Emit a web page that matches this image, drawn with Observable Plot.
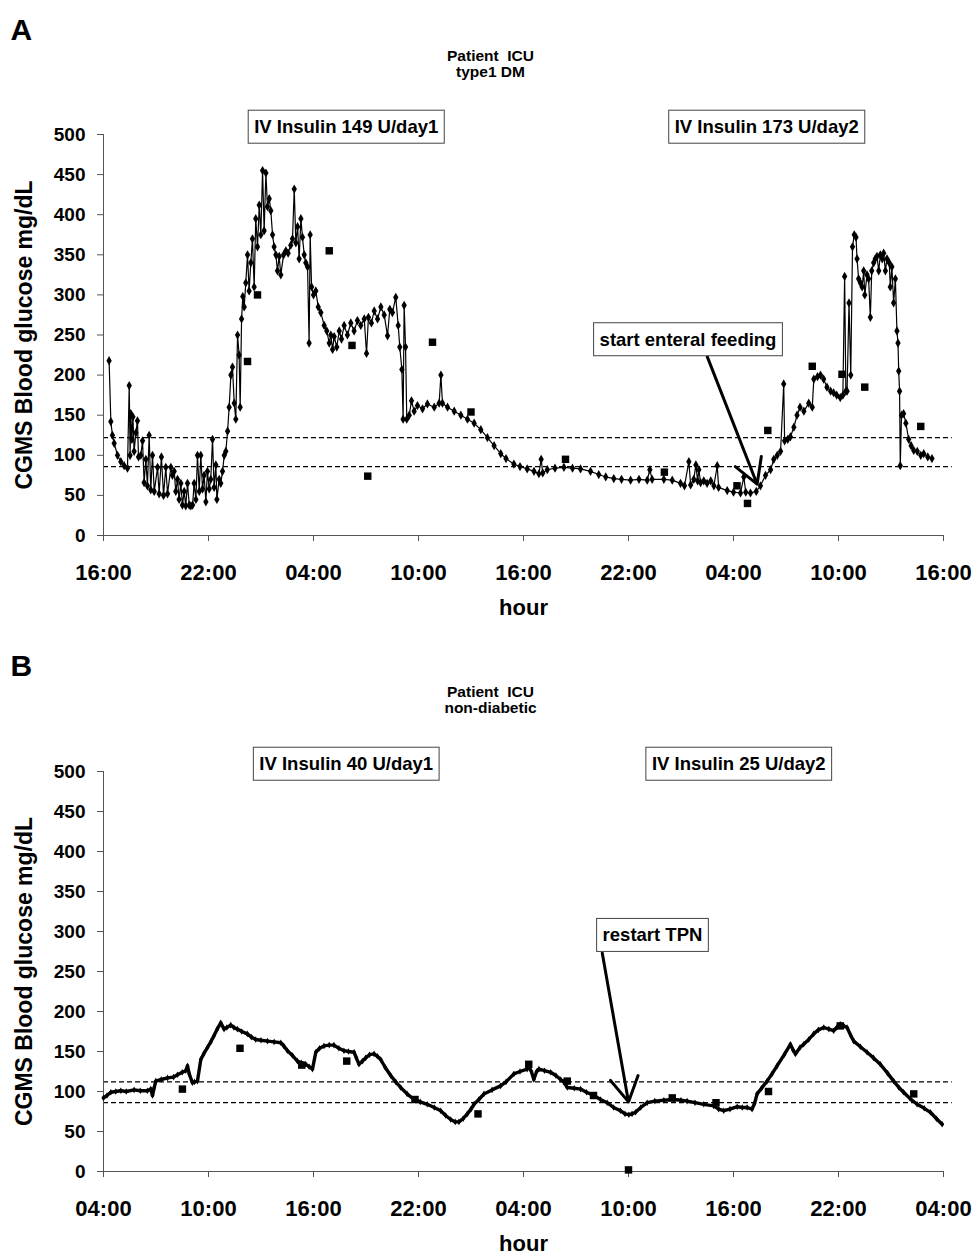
<!DOCTYPE html>
<html><head><meta charset="utf-8">
<script src="https://cdn.jsdelivr.net/npm/d3@7"></script>
<script src="https://cdn.jsdelivr.net/npm/@observablehq/plot@0.6"></script>
<style>
body{margin:0;background:#fff;}
#chart{width:977px;}
#chart svg{display:block;}
</style></head><body><div id="chart"></div>
<script>
// ---- tick positions / labels (hours since start of record) ----
const xTicks = [0, 6, 12, 18, 24, 30, 36, 42, 48];
const xTickLabelsA = ["16:00","22:00","04:00","10:00","16:00","22:00","04:00","10:00","16:00"];
const xTickLabelsB = ["04:00","10:00","16:00","22:00","04:00","10:00","16:00","22:00","04:00"];
const yTicks = [0, 50, 100, 150, 200, 250, 300, 350, 400, 450, 500];

// ---- target range (dashed lines), mg/dL ----
const targetA = [86, 122];
const targetB = [86, 112];

// ---- Panel A: CGMS readings [hour, mg/dL] ----
const cgmsA = [
[0.32,218],[0.42,142],[0.51,125],[0.61,115],[0.8,100],[0.99,92],[1.18,87],[1.37,84],[1.47,187],[1.52,100],
[1.56,152],[1.62,120],[1.68,148],[1.75,105],[1.85,128],[1.94,143],[2.0,98],[2.13,100],[2.23,118],[2.32,66],
[2.42,95],[2.51,62],[2.61,125],[2.7,57],[2.8,100],[2.9,55],[3.09,85],[3.18,52],[3.31,98],[3.43,50],
[3.56,85],[3.66,52],[3.85,85],[3.94,75],[4.04,80],[4.13,55],[4.23,70],[4.32,45],[4.42,65],[4.51,38],
[4.61,55],[4.7,37],[4.8,65],[4.9,38],[4.99,37],[5.09,38],[5.18,65],[5.28,45],[5.37,100],[5.47,55],
[5.56,100],[5.66,58],[5.75,75],[5.85,42],[5.94,80],[6.04,58],[6.13,70],[6.23,120],[6.32,60],[6.42,88],
[6.48,45],[6.61,70],[6.7,65],[6.8,80],[6.9,100],[6.99,105],[7.09,130],[7.18,160],[7.28,200],[7.37,210],
[7.47,165],[7.56,145],[7.66,250],[7.75,225],[7.81,160],[7.89,270],[7.96,298],[8.04,285],[8.13,315],[8.23,350],
[8.32,305],[8.42,340],[8.51,370],[8.61,310],[8.7,395],[8.8,360],[8.9,412],[8.99,375],[9.09,455],[9.18,380],
[9.28,452],[9.37,410],[9.47,420],[9.56,405],[9.66,375],[9.75,360],[9.85,350],[9.94,330],[10.04,348],[10.13,325],
[10.29,350],[10.42,355],[10.55,352],[10.7,362],[10.8,370],[10.9,432],[10.99,365],[11.09,385],[11.18,345],[11.28,395],
[11.37,372],[11.47,350],[11.56,340],[11.66,335],[11.75,240],[11.81,375],[11.89,310],[12.0,300],[12.13,305],[12.27,285],
[12.42,278],[12.61,262],[12.76,255],[12.9,240],[12.99,250],[13.09,232],[13.18,248],[13.33,235],[13.47,255],[13.6,245],
[13.75,262],[13.94,250],[14.13,265],[14.32,255],[14.51,268],[14.7,262],[14.9,270],[15.03,227],[15.14,272],[15.31,265],
[15.47,280],[15.66,270],[15.85,285],[16.04,275],[16.23,249],[16.36,282],[16.51,278],[16.7,297],[16.84,262],[16.93,235],
[17.05,207],[17.12,145],[17.18,287],[17.26,235],[17.33,145],[17.47,150],[17.6,168],[17.75,155],[17.94,162],[18.23,158],
[18.51,164],[18.9,160],[19.18,165],[19.28,200],[19.37,165],[19.66,160],[20.04,155],[20.42,150],[20.8,145],[21.18,140],
[21.56,132],[21.94,122],[22.32,112],[22.7,102],[23.0,96],[23.45,89],[23.8,86],[24.21,83],[24.6,80],[24.88,77],
[25.01,95],[25.1,78],[25.36,82],[25.8,84],[26.31,85],[26.8,84],[27.26,83],[27.83,80],[28.3,76],[28.7,73],
[29.16,71],[29.6,70],[30.12,69],[30.6,70],[31.07,69],[31.22,82],[31.35,70],[32.02,70],[32.5,69],[32.97,65],
[33.2,62],[33.45,92],[33.55,63],[33.73,70],[33.85,88],[33.95,68],[34.02,82],[34.12,66],[34.3,68],[34.49,65],
[34.7,68],[34.88,62],[35.07,87],[35.15,60],[35.64,56],[36.0,54],[36.4,53],[36.59,73],[36.7,54],[36.97,53],
[37.3,55],[37.54,62],[37.83,75],[38.12,82],[38.3,95],[38.5,100],[38.69,105],[38.87,189],[38.92,118],[39.1,120],
[39.25,123],[39.45,135],[39.63,150],[39.8,160],[40.02,155],[40.3,165],[40.5,160],[40.59,195],[40.8,198],[40.97,200],
[41.15,195],[41.34,185],[41.55,180],[41.72,178],[41.9,175],[42.1,172],[42.25,175],[42.35,323],[42.42,180],[42.49,180],
[42.6,290],[42.7,200],[42.8,360],[42.9,375],[43.0,372],[43.06,345],[43.15,320],[43.25,315],[43.35,310],[43.44,330],
[43.5,300],[43.63,325],[43.72,320],[43.82,272],[43.9,330],[44.01,340],[44.1,345],[44.2,348],[44.3,330],[44.39,350],
[44.5,345],[44.58,352],[44.68,330],[44.77,345],[44.9,340],[44.96,310],[45.05,335],[45.15,290],[45.25,320],[45.34,255],
[45.4,240],[45.44,205],[45.49,180],[45.53,87],[45.6,150],[45.72,152],[45.85,140],[46.01,120],[46.15,112],[46.3,106],
[46.5,105],[46.7,100],[46.87,102],[47.1,98],[47.34,96]
];
// ---- Panel A: blood glucose (lab) [hour, mg/dL] ----
const bgA = [[8.23,217],[8.8,300],[12.9,355],[14.2,237],[15.1,74],[18.8,241],[21.0,154],[26.4,95],
[32.05,79],[36.2,62],[36.8,40],[37.96,131],[40.5,211],[42.2,201],[43.5,185],[46.7,136]];

// ---- Panel B: CGMS readings [hour, mg/dL] ----
const cgmsB = [
[0.0,92],[0.2,95],[0.42,99],[0.7,100],[0.99,101],[1.3,100],[1.75,102],[2.1,101],[2.51,101],[2.7,103],
[2.8,95],[2.9,105],[2.99,113],[3.3,115],[3.66,117],[4.0,118],[4.23,121],[4.5,124],[4.7,126],[4.8,132],
[4.9,122],[5.08,111],[5.2,112],[5.37,113],[5.56,140],[5.75,148],[5.94,155],[6.13,162],[6.32,170],[6.5,178],
[6.7,186],[6.89,178],[7.05,180],[7.27,183],[7.45,180],[7.65,178],[7.9,175],[8.22,172],[8.45,168],[8.7,165],
[9.0,164],[9.37,163],[9.75,162],[10.13,161],[10.3,157],[10.51,151],[10.8,145],[11.08,138],[11.3,136],[11.56,134],
[11.75,131],[11.94,128],[12.13,149],[12.35,154],[12.6,157],[12.9,158],[13.17,158],[13.45,154],[13.74,151],[14.0,150],
[14.32,149],[14.45,142],[14.6,134],[14.8,138],[14.98,142],[15.2,146],[15.46,147],[15.65,144],[15.84,140],[16.1,130],
[16.41,120],[16.7,112],[16.98,105],[17.35,97],[17.74,90],[18.1,87],[18.5,84],[18.9,80],[19.27,76],[19.55,70],
[19.84,65],[20.1,62],[20.31,62],[20.55,66],[20.79,72],[21.0,78],[21.17,84],[21.45,90],[21.74,97],[22.2,102],
[22.69,107],[23.0,112],[23.45,122],[23.8,125],[24.21,128],[24.3,131],[24.45,125],[24.59,115],[24.75,125],[24.88,128],
[25.2,126],[25.55,124],[25.85,120],[26.12,115],[26.3,112],[26.5,105],[26.9,104],[27.26,103],[27.6,99],[28.02,95],
[28.4,90],[28.78,86],[29.15,80],[29.54,76],[29.8,72],[30.02,71],[30.2,72],[30.4,74],[30.7,80],[31.07,86],
[31.5,88],[32.02,89],[32.59,90],[33.0,89],[33.35,88],[33.8,86],[34.3,84],[34.87,82],[35.15,78],[35.44,76],
[35.8,78],[36.21,81],[36.5,80],[36.78,80],[37.06,78],[37.2,85],[37.35,97],[37.6,104],[37.92,113],[38.2,122],
[38.49,132],[38.9,146],[39.25,159],[39.4,152],[39.54,147],[39.8,155],[40.01,159],[40.3,165],[40.58,172],[40.85,177],
[41.16,180],[41.45,178],[41.72,176],[41.9,180],[42.1,184],[42.3,182],[42.49,180],[42.7,170],[42.87,163],[43.25,156],
[43.63,149],[44.0,142],[44.39,134],[44.8,123],[45.15,113],[45.45,105],[45.72,99],[46.1,91],[46.49,84],[46.9,79],
[47.25,74],[47.6,66],[47.92,59]
];
// ---- Panel B: blood glucose (lab) [hour, mg/dL] ----
const bgB = [[4.51,103],[7.8,154],[11.33,133],[13.9,138],[17.8,90],[21.4,72],[24.3,134],[26.5,113],
[28.0,95],[30.0,2],[32.5,92],[35.0,86],[38.0,100],[42.1,182],[46.3,97]];

// ---- annotations ----
const notesA = [
  {x: 13.87, y: 509, text: "IV Insulin 149 U/day1"},
  {x: 37.9, y: 509, text: "IV Insulin 173 U/day2"},
  {x: 33.4, y: 244, text: "start enteral feeding"}
];
const arrowA = [{x1: 34.5, y1: 223, x2: 37.35, y2: 64}];
const notesB = [
  {x: 13.87, y: 509, text: "IV Insulin 40 U/day1"},
  {x: 36.3, y: 509, text: "IV Insulin 25 U/day2"},
  {x: 31.37, y: 295, text: "restart TPN"}
];
const arrowB = [{x1: 28.5, y1: 273, x2: 30.0, y2: 87}];

const FONT = "'Liberation Sans', Arial, Helvetica, sans-serif";

function panel({letter, title, labels, target, cgms, bg, notes, arrow, height, marginTop, marginBottom, lineWidth, dotR}) {
  return Plot.plot({
    width: 977,
    height,
    marginLeft: 103,
    marginRight: 34,
    marginTop,
    marginBottom,
    style: {fontFamily: FONT, fontWeight: "bold", background: "white", color: "black", overflow: "visible"},
    x: {domain: [0, 48]},
    y: {domain: [0, 500]},
    marks: [
      Plot.ruleY(target, {x1: 0, x2: 48.5, stroke: "black", strokeWidth: 1.3, strokeDasharray: "5,3"}),
      Plot.ruleX([0], {y1: 0, y2: 500, stroke: "#555", strokeWidth: 1}),
      Plot.ruleY([0], {x1: 0, x2: 48, stroke: "#555", strokeWidth: 1}),
      Plot.axisY({ticks: yTicks, tickSize: 6, tickPadding: 12, fontSize: 19, fontWeight: "bold", label: null, stroke: "#555"}),
      Plot.axisX({ticks: xTicks, tickFormat: d => labels[xTicks.indexOf(d)], tickSize: 6, tickPadding: 23, fontSize: 22, fontWeight: "bold", label: null, stroke: "#555"}),
      Plot.line(cgms, {x: d => d[0], y: d => d[1], stroke: "black", strokeWidth: lineWidth}),
      Plot.dot(cgms, {x: d => d[0], y: d => d[1], symbol: "diamond", r: dotR, fill: "black"}),
      Plot.dot(bg, {x: d => d[0], y: d => d[1], symbol: "square", r: 4.2, fill: "black"}),
      Plot.arrow(arrow, {x1: "x1", y1: "y1", x2: "x2", y2: "y2", stroke: "black", strokeWidth: 3, headLength: 14}),
      Plot.text(notes, {x: "x", y: "y", text: "text", fontSize: 18.5, fontWeight: "bold", fill: "black"}),
      Plot.text([letter], {frameAnchor: "top-left", dx: -93, dy: -(marginTop - 18), fontSize: 30, fontWeight: "bold", textAnchor: "start", lineAnchor: "top"}),
      Plot.text([title], {frameAnchor: "top", dx: -33, dy: -(marginTop - 63), fontSize: 15.5, fontWeight: "bold", textAnchor: "middle", lineAnchor: "middle", lineHeight: 1.05}),
      Plot.text(["CGMS Blood glucose mg/dL"], {frameAnchor: "left", dx: -79, rotate: -90, fontSize: 23, fontWeight: "bold", textAnchor: "middle", lineAnchor: "middle"}),
      Plot.text(["hour"], {frameAnchor: "bottom", dy: 72, fontSize: 22, fontWeight: "bold", textAnchor: "middle", lineAnchor: "middle"})
    ]
  });
}

const chart = document.getElementById("chart");
chart.append(panel({letter: "A", title: "Patient\u00a0 ICU\ntype1 DM", labels: xTickLabelsA, target: targetA,
  cgms: cgmsA, bg: bgA, notes: notesA, arrow: arrowA, height: 636, marginTop: 134, marginBottom: 101, lineWidth: 1.2, dotR: 2.8}));
chart.append(panel({letter: "B", title: "Patient\u00a0 ICU\nnon-diabetic", labels: xTickLabelsB, target: targetB,
  cgms: cgmsB, bg: bgB, notes: notesB, arrow: arrowB, height: 624, marginTop: 135, marginBottom: 89, lineWidth: 3.4, dotR: 2}));

// draw a frame around each boxed annotation label
const NS = "http://www.w3.org/2000/svg";
const boxedTexts = new Set([...notesA, ...notesB].map(d => d.text));
chart.querySelectorAll("svg text").forEach(t => {
  if (!boxedTexts.has(t.textContent)) return;
  const b = t.getBBox();
  const r = document.createElementNS(NS, "rect");
  r.setAttribute("x", b.x - 6);
  r.setAttribute("y", b.y - 6);
  r.setAttribute("width", b.width + 12);
  r.setAttribute("height", b.height + 12);
  r.setAttribute("fill", "white");
  r.setAttribute("stroke", "#444");
  r.setAttribute("stroke-width", 1);
  if (t.getAttribute("transform")) r.setAttribute("transform", t.getAttribute("transform"));
  t.parentNode.insertBefore(r, t);
});
</script></body></html>
